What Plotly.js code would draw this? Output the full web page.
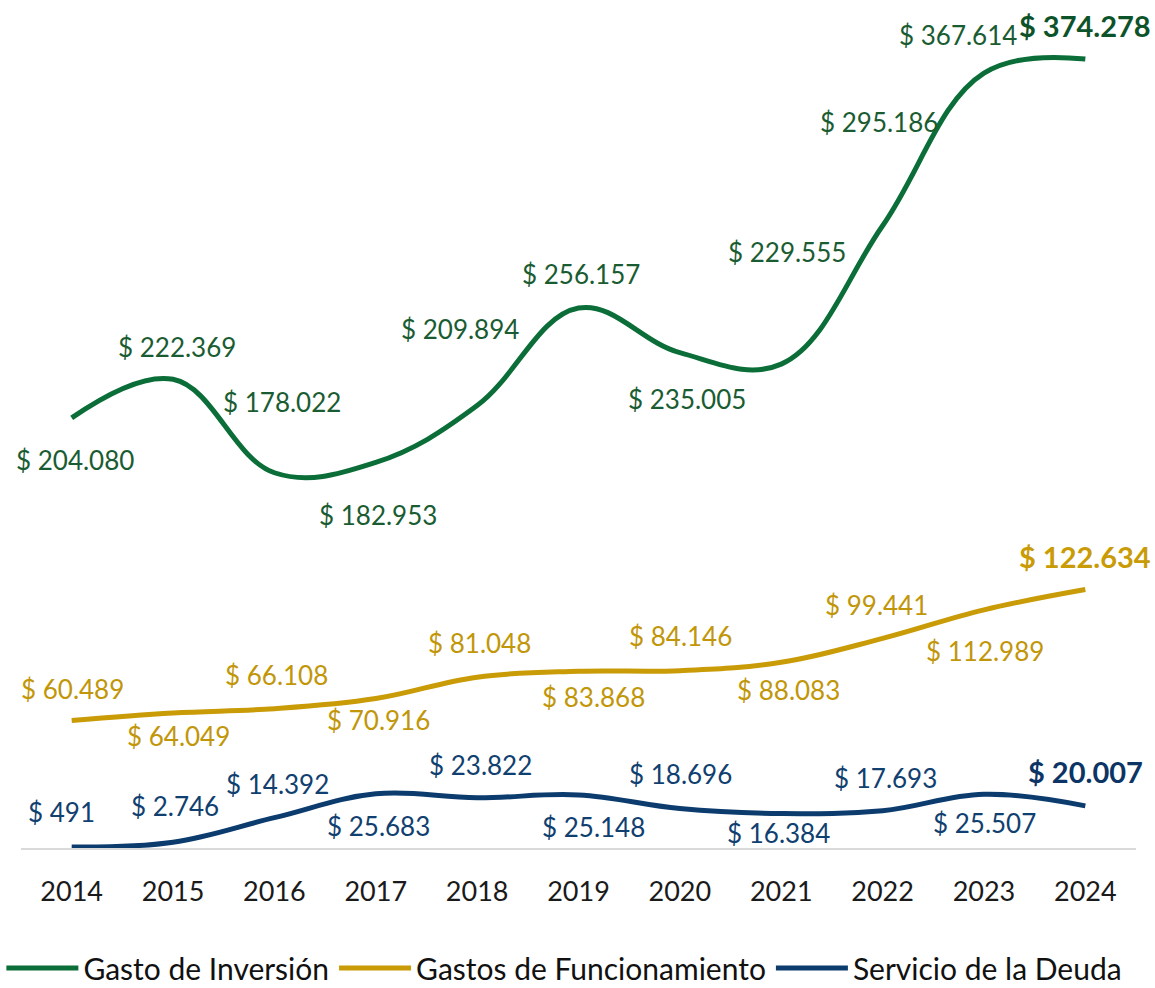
<!DOCTYPE html>
<html>
<head>
<meta charset="utf-8">
<script src="https://cdn.plot.ly/plotly-3.0.1.min.js"></script>
<style>html,body{margin:0;padding:0;background:#fff;}#chart{width:1155px;height:988px;}</style>
</head>
<body>
<div id="chart"></div>
<script>
const years = ['2014','2015','2016','2017','2018','2019','2020','2021','2022','2023','2024'];
const inversion = [204.080, 222.369, 178.022, 182.953, 209.894, 256.157, 235.005, 229.555, 295.186, 367.614, 374.278];
const funcionamiento = [60.489, 64.049, 66.108, 70.916, 81.048, 83.868, 84.146, 88.083, 99.441, 112.989, 122.634];
const deuda = [0.491, 2.746, 14.392, 25.683, 23.822, 25.148, 18.696, 16.384, 17.693, 25.507, 20.007];
const seriesNames = ['Gasto de Inversión', 'Gastos de Funcionamiento', 'Servicio de la Deuda'];

// label offsets in pixels [dx, dy(down positive)]
const offInv = [[3,42],[4,-32],[8,-71],[2,53],[-17,-77],[2,-34],[7,46],[6,-112],[-4,-104],[-26,-38],[0,-34]];
const offFun = [[1,-32],[5,23],[2,-34],[3,21],[2,-34],[15,26],[1,-35],[7,28],[-6,-33],[1,41],[0,-33]];
const offDeu = [[-10,-35],[2,-36],[3,-34],[3,32],[3,-33],[15,32],[1,-35],[-3,20],[3,-33],[1,29],[0,-34]];

const lineColors = ['#0b6e38', '#c99b06', '#0c3c6e'];
const textColors = ['#1a5c32', '#c19609', '#10406f'];
const boldColors = ['#0d5329', '#c99b06', '#0c3566'];

function fmt(v){
  const n = Math.round(v*1000);
  return '$ ' + n.toString().replace(/\B(?=(\d{3})+(?!\d))/g, '.');
}

const allSeries = [inversion, funcionamiento, deuda];
const allOff = [offInv, offFun, offDeu];

const traces = allSeries.map((vals, k) => ({
  x: years, y: vals, type: 'scatter', mode: 'lines', name: seriesNames[k],
  line: {color: lineColors[k], width: 5, shape: 'spline', smoothing: 1.1},
  hoverinfo: 'skip'
}));

const annotations = [];
allSeries.forEach((vals, k) => {
  vals.forEach((v, i) => {
    const last = i === vals.length - 1;
    annotations.push({
      x: i, y: v, xref: 'x', yref: 'y',
      text: last ? '<b>' + fmt(v) + '</b>' : fmt(v),
      showarrow: false,
      xshift: allOff[k][i][0], yshift: -allOff[k][i][1],
      xanchor: 'center', yanchor: 'middle',
      font: {family: 'Lato, sans-serif', size: last ? 29 : 26, color: last ? boldColors[k] : textColors[k]}
    });
  });
});

const layout = {
  width: 1155, height: 988,
  margin: {l: 21, r: 19, t: 0, b: 140, autoexpand: false},
  paper_bgcolor: '#fff', plot_bgcolor: '#fff',
  showlegend: true,
  legend: {orientation: 'h', x: -0.0176, xanchor: 'left', y: -0.1415, yanchor: 'middle',
    font: {family: 'Lato, sans-serif', size: 30, color: '#111'}, itemwidth: 72, tracegroupgap: 0},
  xaxis: {type: 'category', range: [-0.5, 10.5], showgrid: false, zeroline: false,
    showline: true, linecolor: '#d9d9d9', linewidth: 2,
    ticks: 'outside', ticklen: 19, tickcolor: 'rgba(0,0,0,0)',
    tickfont: {family: 'Lato, sans-serif', size: 27, color: '#1a1a1a'}},
  yaxis: {range: [0, 402.3], visible: false, showgrid: false, zeroline: false},
  annotations: annotations
};

Plotly.newPlot('chart', traces, layout, {displayModeBar: false, staticPlot: true});
</script>
</body>
</html>
